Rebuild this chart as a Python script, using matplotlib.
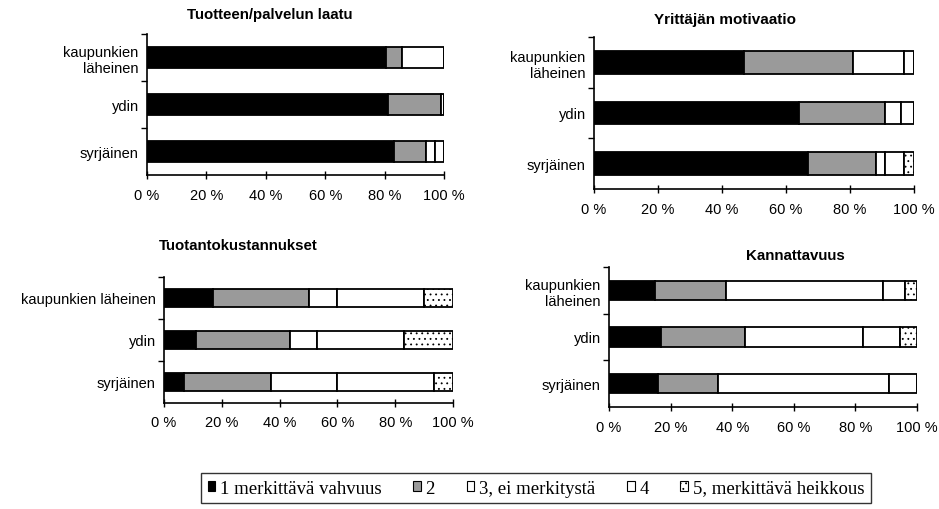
import matplotlib.pyplot as plt
import numpy as np
from matplotlib.patches import Patch

plt.rcParams['font.family'] = ['Liberation Sans', 'DejaVu Sans']

# Osuudet (%) luokittain: 1 merkittävä vahvuus, 2, 3, 4, 5
regions = ['kaupunkien\nläheinen', 'ydin', 'syrjäinen']
regions_wide = ['kaupunkien läheinen', 'ydin', 'syrjäinen']

laatu = np.array([
    [80.5, 5.5, 14.0, 0.0, 0.0],
    [81.0, 18.0, 1.0, 0.0, 0.0],
    [83.0, 11.0, 3.0, 3.0, 0.0],
])
motivaatio = np.array([
    [47.0, 34.0, 16.0, 3.0, 0.0],
    [64.0, 27.0, 5.0, 4.0, 0.0],
    [67.0, 21.0, 3.0, 6.0, 3.0],
])
kustannukset = np.array([
    [17.0, 33.0, 10.0, 30.0, 10.0],
    [11.0, 32.5, 9.5, 30.0, 17.0],
    [7.0, 30.0, 23.0, 33.5, 6.5],
])
kannattavuus = np.array([
    [15.0, 23.0, 51.0, 7.0, 4.0],
    [17.0, 27.0, 38.5, 12.0, 5.5],
    [16.0, 19.5, 55.5, 9.0, 0.0],
])

legend_labels = ['1 merkittävä vahvuus', '2', '3, ei merkitystä', '4', '5, merkittävä heikkous']
colors = ['#000000', '#9a9a9a', '#ffffff', '#ffffff', '#ffffff']
hatches = [None, None, None, None, '...']

W, H = 939, 510
fig = plt.figure(figsize=(W / 100, H / 100), dpi=100)


def add_ax(x0, y0, x1, y1):
    return fig.add_axes([x0 / W, 1 - y1 / H, (x1 - x0) / W, (y1 - y0) / H])


def draw(ax, data, labels, bar_h):
    y = np.arange(len(labels))[::-1]
    left = np.zeros(len(labels))
    for k in range(data.shape[1]):
        vals = data[:, k]
        ax.barh(y, vals, left=left, height=bar_h, color=colors[k],
                edgecolor='black', linewidth=1.3, hatch=hatches[k])
        left += vals
    ax.set_xlim(0, 100)
    ax.set_ylim(-0.5, len(labels) - 0.5)
    ax.set_yticks(y)
    ax.set_yticklabels(labels, fontsize=10.5)
    ax.set_yticks([0.5, 1.5, 2.5], minor=True)
    ax.tick_params(axis='y', which='major', length=0, pad=6)
    ax.tick_params(axis='y', which='minor', length=4, width=1)
    ax.set_xticks(np.arange(0, 101, 20))
    ax.set_xticklabels([f'{v} %' for v in range(0, 101, 20)], fontsize=10.5)
    ax.tick_params(axis='x', direction='inout', length=6, width=1, pad=6)
    ax.spines[['top', 'right']].set_visible(False)
    for s in ['left', 'bottom']:
        ax.spines[s].set_linewidth(1.2)


plt.rcParams['hatch.linewidth'] = 0.6
plt.rcParams['hatch.color'] = '#777777'

ax1 = add_ax(147, 35, 444, 176)
draw(ax1, laatu, regions, 0.43)
ax2 = add_ax(594, 38, 914, 190)
draw(ax2, motivaatio, regions, 0.45)
ax3 = add_ax(164, 278, 453, 404)
draw(ax3, kustannukset, regions_wide, 0.41)
ax4 = add_ax(609, 268, 917, 408)
draw(ax4, kannattavuus, regions, 0.42)

fig.text(270 / W, 1 - 15 / H, 'Tuotteen/palvelun laatu', ha='center', va='center',
         fontsize=10.8, fontweight='bold')
fig.text(725 / W, 1 - 20 / H, 'Yrittäjän motivaatio', ha='center', va='center',
         fontsize=11, fontweight='bold')
fig.text(238 / W, 1 - 246 / H, 'Tuotantokustannukset', ha='center', va='center',
         fontsize=10.8, fontweight='bold')
fig.text(795 / W, 1 - 256 / H, 'Kannattavuus', ha='center', va='center',
         fontsize=10.8, fontweight='bold')

handles = [Patch(facecolor=colors[k], edgecolor='black', hatch=hatches[k], linewidth=0.8)
           for k in range(5)]
leg = fig.legend(handles, legend_labels, loc='upper left', bbox_to_anchor=(201 / W, 1 - 474 / H),
                 ncol=5, frameon=True, fancybox=False, edgecolor='black',
                 prop={'family': 'Liberation Serif', 'size': 13.5}, handlelength=0.4,
                 handleheight=0.4, handletextpad=0.25, columnspacing=1.7, borderpad=0.35,
                 borderaxespad=0)
leg.get_frame().set_linewidth(1.0)

fig.savefig('out.png', dpi=100)
